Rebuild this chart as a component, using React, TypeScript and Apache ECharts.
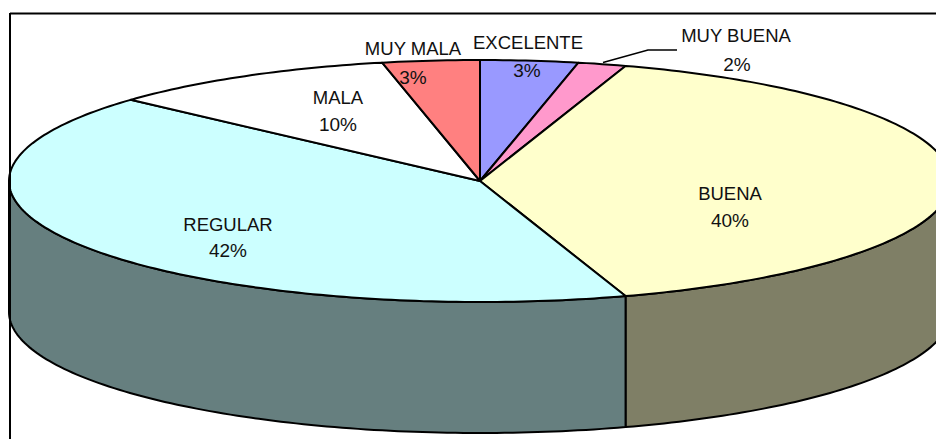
import React, { useEffect, useRef } from "react";
import * as echarts from "echarts";

const categories = ["EXCELENTE", "MUY BUENA", "BUENA", "REGULAR", "MALA", "MUY MALA"];
const shares = [3.35, 1.65, 40, 41.7, 9.97, 3.33];
const percentLabels = ["3%", "2%", "40%", "42%", "10%", "3%"];
const topColors = ["#9999FF", "#FF99CC", "#FFFFCC", "#CCFFFF", "#FFFFFF", "#FF8080"];
const sideColors = ["#4C4C7F", "#7F4C66", "#7F7F66", "#667F7F", "#7F7F7F", "#7F4040"];

const labelNameAt: number[][] = [[528, 42], [736, 35], [730, 193], [228, 224], [338, 97], [413, 48]];
const labelPctAt: number[][] = [[527, 70], [737, 64], [730, 220], [228, 250], [338, 124], [413, 77]];
const DEPTH = 131;
const FONT = "Liberation Sans, Arial, sans-serif";
const NAME_SIZE = 18.5;
const PCT_SIZE = 19;

let sum = 0;
const ranges = shares.map((v) => {
  const r = [sum, sum + v];
  sum += v;
  return r;
});

function arc(api: any, from: number, to: number, dy = 0): number[][] {
  const a = (from / 100) * 2 * Math.PI;
  const b = (to / 100) * 2 * Math.PI;
  const n = Math.max(2, Math.ceil((Math.abs(b - a) * 180) / Math.PI));
  const pts: number[][] = [];
  for (let i = 0; i <= n; i++) {
    const t = a + ((b - a) * i) / n;
    const p = api.coord([Math.sin(t), Math.cos(t)]);
    pts.push([p[0], p[1] + dy]);
  }
  return pts;
}

const renderSide = (params: any, api: any) => {
  const from = Math.max(api.value(0), 25);
  const to = Math.min(api.value(1), 75);
  if (to <= from) return { type: "group", children: [] };
  const points = [...arc(api, from, to), ...arc(api, to, from, DEPTH)];
  return {
    type: "polygon",
    shape: { points },
    style: { fill: sideColors[params.dataIndex], stroke: "#000", lineWidth: 2, lineJoin: "round" },
  };
};

const renderTop = (params: any, api: any) => {
  const center = api.coord([0, 0]);
  const points = [center, ...arc(api, api.value(0), api.value(1))];
  return {
    type: "polygon",
    shape: { points },
    style: { fill: topColors[params.dataIndex], stroke: "#000", lineWidth: 2, lineJoin: "round" },
  };
};

const textEl = (text: string, at: number[], size: number, i: string) => ({
  type: "text",
  id: i,
  x: at[0],
  y: at[1],
  z: 20,
  style: { text, fill: "#111", font: `${size}px ${FONT}`, textAlign: "center", textVerticalAlign: "middle" },
});

export default function App() {
  const ref = useRef<HTMLDivElement>(null);
  useEffect(() => {
    const chart = echarts.init(ref.current!, null, { renderer: "svg" });
    chart.setOption({
      animation: false,
      backgroundColor: "#fff",
      grid: { left: 0, top: 60, width: 936, height: 242 },
      xAxis: { type: "value", min: -480 / 471, max: 456 / 471, show: false },
      yAxis: { type: "value", min: -1, max: 1, show: false },
      series: [
        { type: "custom", name: "side", coordinateSystem: "cartesian2d", clip: false, renderItem: renderSide, data: ranges, z: 2, silent: true },
        { type: "custom", name: "top", coordinateSystem: "cartesian2d", clip: false, renderItem: renderTop, data: ranges, z: 3, silent: true },
      ],
      graphic: [
        { type: "line", z: 30, shape: { x1: 10, y1: 13.5, x2: 936, y2: 13.5 }, style: { stroke: "#000", lineWidth: 2 } },
        { type: "line", z: 30, shape: { x1: 10, y1: 13, x2: 10, y2: 439 }, style: { stroke: "#000", lineWidth: 2 } },
        { type: "polyline", z: 30, shape: { points: [[603, 62.5], [648, 50], [677, 50]] }, style: { stroke: "#000", lineWidth: 1.5, fill: "none" } },
        ...categories.map((c, i) => textEl(c, labelNameAt[i], NAME_SIZE, `n${i}`)),
        ...percentLabels.map((c, i) => textEl(c, labelPctAt[i], PCT_SIZE, `p${i}`)),
      ],
    });
    return () => chart.dispose();
  }, []);
  return <div ref={ref} style={{ position: "fixed", left: 0, top: 0, width: 936, height: 439 }} />;
}
